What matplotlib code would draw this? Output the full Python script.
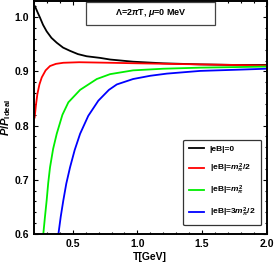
import numpy as np
import matplotlib
matplotlib.use('Agg')
import matplotlib.pyplot as plt
from matplotlib.ticker import MultipleLocator
from matplotlib.patches import Rectangle

plt.rcParams['font.family'] = ['Liberation Sans', 'DejaVu Sans']
plt.rcParams['mathtext.fontset'] = 'custom'
plt.rcParams['mathtext.rm'] = 'Liberation Sans:bold'
plt.rcParams['mathtext.it'] = 'Liberation Sans:bold:italic'

# values
T_black = [0.208, 0.228, 0.247, 0.27, 0.298, 0.335, 0.376, 0.425, 0.479, 0.54, 0.608, 0.712, 0.789, 0.967, 1.2, 1.487, 1.75, 2.0]
P_black = [1.020, 1.009, 0.999, 0.986, 0.974, 0.962, 0.953, 0.944, 0.938, 0.932, 0.928, 0.925, 0.922, 0.918, 0.915, 0.913, 0.912, 0.912]

T_red = [0.205, 0.215, 0.226, 0.242, 0.26, 0.29, 0.324, 0.37, 0.427, 0.55, 0.789, 1.0, 1.487, 2.0]
P_red = [0.815, 0.838, 0.858, 0.876, 0.889, 0.902, 0.910, 0.914, 0.916, 0.917, 0.916, 0.915, 0.913, 0.911]

T_green = [0.272, 0.285, 0.298, 0.31, 0.324, 0.348, 0.376, 0.42, 0.466, 0.557, 0.686, 0.789, 0.967, 1.2, 1.487, 1.75, 2.0]
P_green = [0.600, 0.632, 0.662, 0.694, 0.723, 0.757, 0.785, 0.820, 0.843, 0.866, 0.886, 0.895, 0.902, 0.905, 0.907, 0.908, 0.909]

T_blue = [0.389, 0.407, 0.427, 0.45, 0.479, 0.515, 0.557, 0.62, 0.698, 0.78, 0.841, 0.967, 1.1, 1.229, 1.487, 1.75, 2.0]
P_blue = [0.600, 0.632, 0.662, 0.693, 0.723, 0.755, 0.785, 0.818, 0.846, 0.866, 0.876, 0.886, 0.892, 0.896, 0.901, 0.903, 0.905]

labels = [r'|eB|=0', r'|eB|=$m_\pi^2$/2', r'|eB|=$m_\pi^2$', r'|eB|=3$m_\pi^2$/2']
colors = ['black', 'red', '#00ee00', 'blue']

fig = plt.figure(figsize=(2.75, 2.65), dpi=100)
ax = fig.add_axes([34/275, 1 - 234/265, 232.5/275, 233/265])

series = [(T_black, P_black), (T_red, P_red), (T_green, P_green), (T_blue, P_blue)]
for (t, p), c, lab in zip(series, colors, labels):
    ax.plot(t, p, color=c, lw=1.3, label=lab)

ax.set_xlim(0.2, 2.0)
ax.set_ylim(0.6, 1.03)
ax.xaxis.set_minor_locator(MultipleLocator(0.1))
ax.yaxis.set_minor_locator(MultipleLocator(0.02))
ax.tick_params(which='both', direction='in', top=True, right=True,
               labelsize=7.5, width=0.8)
ax.tick_params(which='major', length=3)
ax.tick_params(which='minor', length=1.5)
ax.set_xticks([0.5, 1.0, 1.5, 2.0])
ax.set_xticklabels(['0.5', '1.0', '1.5', '2.0'], fontweight='bold')
ax.set_yticks([0.6, 0.7, 0.8, 0.9, 1.0])
ax.set_yticklabels(['0.6', '0.7', '0.8', '0.9', '1.0'], fontweight='bold')
for s in ax.spines.values():
    s.set_linewidth(1.4)

ax.set_xlabel('T[GeV]', fontsize=7.5, fontweight='bold', labelpad=2)
ax.set_ylabel(r'$P/P_{\rm Ideal}$', fontsize=8, labelpad=1)

# title box
bx0 = (86 - 34) / 232.5
bx1 = (215 - 34) / 232.5
by0 = 1 - (25 - 1) / 233
ax.add_patch(Rectangle((bx0, by0), bx1 - bx0, 1 - by0 - 0.004, transform=ax.transAxes,
                       fc='white', ec='#444444', lw=0.9, zorder=5))
ax.text((bx0 + bx1) / 2, (by0 + 1) / 2, r'$\Lambda$=2$\pi$T, $\mu$=0 MeV', transform=ax.transAxes,
        ha='center', va='center', fontsize=6.5, fontweight='bold', zorder=6)

leg = ax.legend(loc='lower right', frameon=True, fancybox=True,
                handlelength=1.8, labelspacing=1.05, borderpad=0.7, handletextpad=0.7,
                bbox_to_anchor=(0.995, 0.02), prop={'weight': 'bold', 'size': 6})
leg.get_frame().set_edgecolor('#333333')
leg.get_frame().set_linewidth(0.9)
leg.get_frame().set_alpha(1)

fig.savefig('out.png', dpi=100)
